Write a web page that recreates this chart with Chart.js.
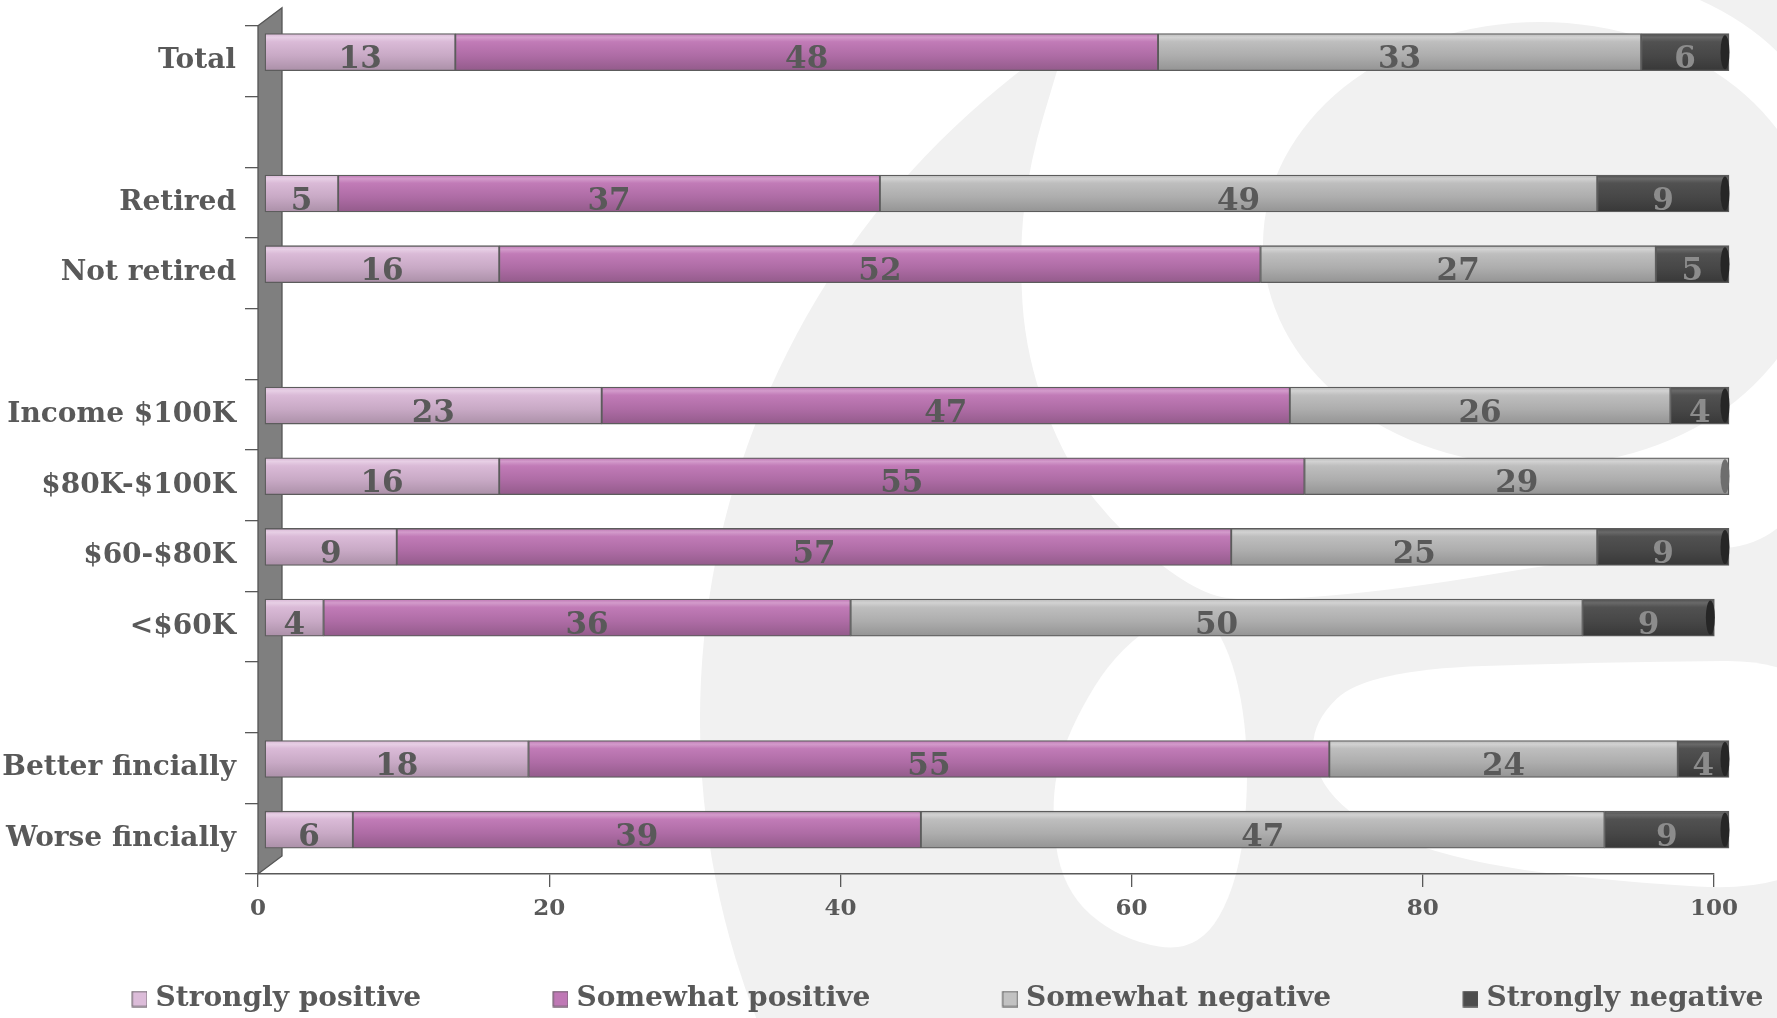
<!DOCTYPE html>
<html>
<head>
<meta charset="utf-8">
<script src="https://cdn.jsdelivr.net/npm/chart.js@4/dist/chart.umd.min.js"></script>
<style>
html,body{margin:0;padding:0;background:#fff;overflow:hidden}
#wrap{width:1777px;height:1018px;position:relative}
</style>
</head>
<body>
<div id="wrap"><canvas id="c" width="1777" height="1018"></canvas></div>
<script>
// ---------------- data ----------------
const categories = ['Total', '', 'Retired', 'Not retired', '', 'Income $100K', '$80K-$100K', '$60-$80K', '<$60K', '', 'Better fincially', 'Worse fincially'];
const seriesNames = ['Strongly positive', 'Somewhat positive', 'Somewhat negative', 'Strongly negative'];
const stronglyPositive = [13, null, 5, 16, null, 23, 16, 9, 4, null, 18, 6];
const somewhatPositive = [48, null, 37, 52, null, 47, 55, 57, 36, null, 54.7, 38.8];
const somewhatNegative = [33, null, 49, 27, null, 26, 29, 25, 50, null, 23.8, 46.7];
const stronglyNegative = [6, null, 9, 5, null, 4, null, 9, 9, null, 3.5, 8.5];
const xTicks = [0, 20, 40, 60, 80, 100];

// ---------------- styles ----------------
const FONT = "'DejaVu Serif', 'Liberation Serif', serif";
const TEXT = '#595959';
const BAR = 37;
const flatColors = ['#d4b3d1', '#b873ae', '#b4b4b4', '#4a4a4a'];
const legendColors = ['#dcbcd9', '#bf78b5', '#c2c2c2', '#4d4d4d'];
const capColors = ['#a88ea5', '#8c5684', '#6e6e6e', '#262626'];
const labelColors = [TEXT, TEXT, TEXT, '#8c8c8c'];
const stopsList = [
  [[0, '#d8b7d5'], [0.1, '#e7cfe5'], [0.22, '#dabad7'], [0.6, '#c8a9c5'], [1, '#ab90a8']],
  [[0, '#bd76b3'], [0.1, '#d39bcb'], [0.22, '#c17bb7'], [0.6, '#ae6ca5'], [1, '#935b8b']],
  [[0, '#bababa'], [0.1, '#d2d2d2'], [0.22, '#bebebe'], [0.6, '#adadad'], [1, '#949494']],
  [[0, '#4f4f4f'], [0.1, '#696969'], [0.22, '#515151'], [0.6, '#474747'], [1, '#383838']]
];
const BAR_SHIFT_Y = -9;

function gradFill(i) {
  return function (ctx) {
    const ch = ctx.chart;
    const ys = ch.scales && ch.scales.y;
    if (ctx.type !== 'data' || !ys || !ch.chartArea) return flatColors[i];
    const c = ys.getPixelForValue(ctx.dataIndex);
    if (!isFinite(c)) return flatColors[i];
    const g = ch.ctx.createLinearGradient(0, c - BAR / 2, 0, c + BAR / 2);
    stopsList[i].forEach(s => g.addColorStop(s[0], s[1]));
    return g;
  };
}

const LEG_PAD = 2;
const LEG_W = 139.5;
const LEG_FONT = 28;

function legendSwatch(color, W) {
  const IW = W + 12, IH = 17;
  const cv = document.createElement('canvas');
  cv.width = IW; cv.height = IH;
  const c = cv.getContext('2d');
  c.fillStyle = color;
  c.fillRect(IW - 16, 0.5, 15.5, 16);
  c.strokeStyle = '#5a5a5a';
  c.lineWidth = 1;
  c.strokeRect(IW - 15.5, 1, 15, 15);
  return cv;
}
const swatches = legendColors.map(col => legendSwatch(col, LEG_W));

const allSeries = [stronglyPositive, somewhatPositive, somewhatNegative, stronglyNegative];
const datasets = allSeries.map((arr, i) => ({
  label: seriesNames[i],
  data: arr,
  backgroundColor: gradFill(i),
  borderColor: '#5c5c5c',
  borderWidth: 1.3,
  borderSkipped: false,
  barThickness: BAR,
  xAxisID: 'x2',
  yAxisID: 'y',
  clip: false
}));

// ---------------- decoration plugin ----------------
function smoothPath(c, pts) {
  const n = pts.length;
  c.beginPath();
  const p0 = pts[n - 1], p1 = pts[0];
  c.moveTo((p0[0] + p1[0]) / 2, (p0[1] + p1[1]) / 2);
  for (let i = 0; i < n; i++) {
    const a = pts[i], b = pts[(i + 1) % n];
    c.quadraticCurveTo(a[0], a[1], (a[0] + b[0]) / 2, (a[1] + b[1]) / 2);
  }
  c.closePath();
}

const decor = {
  id: 'decor',
  beforeDraw(chart) {
    const c = chart.ctx;
    c.save();
    c.fillStyle = '#ffffff';
    c.fillRect(0, 0, chart.width, chart.height);
    const G = '#f1f1f1', Wt = '#ffffff';
    // big "C" watermark
    c.fillStyle = G;
    c.beginPath(); c.arc(1518, 720, 818, 0, Math.PI * 2); c.fill();
    c.fillStyle = Wt;
    smoothPath(c, [[1090, -40], [1850, -40], [1850, 540], [1600, 556], [1400, 590], [1250, 602], [1198, 593], [1124, 536], [1066, 464], [1026, 357], [1019, 250], [1030, 161], [1057, 71]]);
    c.fill();
    c.fillStyle = G;
    c.beginPath(); c.ellipse(1540, 244, 277, 222, 0, 0, Math.PI * 2); c.fill();
    c.fillStyle = Wt;
    smoothPath(c, [[1198, 600], [1120, 645], [1068, 730], [1050, 800], [1062, 890], [1120, 940], [1198, 953], [1240, 880], [1250, 760], [1235, 660]]);
    c.fill();
    smoothPath(c, [[1367, 670], [1600, 662], [1850, 660], [1850, 896], [1545, 877], [1396, 843], [1322, 793], [1307, 727]]);
    c.fill();
    c.restore();
  },
  beforeDatasetsDraw(chart) {
    const c = chart.ctx, a = chart.chartArea;
    // 3D side wall of the category axis
    c.save();
    c.beginPath();
    c.moveTo(a.left, a.top);
    c.lineTo(a.left + 24, a.top - 18);
    c.lineTo(a.left + 24, a.bottom - 18);
    c.lineTo(a.left, a.bottom);
    c.closePath();
    c.fillStyle = '#7f7f7f';
    c.fill();
    c.strokeStyle = '#555555';
    c.lineWidth = 1.3;
    c.stroke();
    c.restore();
    c.save();
    c.translate(0, BAR_SHIFT_Y);
  },
  afterDatasetsDraw(chart) {
    const c = chart.ctx;
    const n = chart.data.labels.length;
    // end caps
    for (let j = 0; j < n; j++) {
      let last = -1;
      chart.data.datasets.forEach((ds, i) => { if (ds.data[j] != null) last = i; });
      if (last < 0) continue;
      const el = chart.getDatasetMeta(last).data[j];
      c.save();
      c.beginPath();
      c.ellipse(el.x - 4, el.y, 4.5, el.height / 2 - 1.5, 0, 0, Math.PI * 2);
      c.fillStyle = capColors[last];
      c.fill();
      c.restore();
    }
    // value labels (shown as whole numbers)
    c.save();
    c.font = 'bold 31px ' + FONT;
    c.textAlign = 'center';
    c.textBaseline = 'alphabetic';
    chart.data.datasets.forEach((ds, i) => {
      const meta = chart.getDatasetMeta(i);
      meta.data.forEach((el, j) => {
        const v = ds.data[j];
        if (v == null) return;
        c.fillStyle = labelColors[i];
        c.fillText(String(Math.round(v)), (el.x + el.base) / 2, el.y + 16);
      });
    });
    c.restore();
    c.restore();
  }
};

// ---------------- chart ----------------
new Chart(document.getElementById('c'), {
  type: 'bar',
  data: { labels: categories, datasets: datasets },
  options: {
    indexAxis: 'y',
    responsive: false,
    animation: false,
    events: [],
    layout: { padding: { top: 25, left: 0, right: 0, bottom: -5 } },
    scales: {
      y: {
        type: 'category',
        position: 'left',
        stacked: true,
        offset: true,
        grid: { display: true, drawOnChartArea: false, offset: true, tickLength: 13, color: '#595959', lineWidth: 1.3 },
        border: { display: false },
        ticks: { font: { family: FONT, size: 28, weight: 'bold' }, color: TEXT, padding: 9, autoSkip: false },
        afterFit(s) { s.width = 258; }
      },
      yR: {
        type: 'category',
        position: 'right',
        grid: { display: false },
        border: { display: false },
        ticks: { display: false },
        afterFit(s) { s.width = 63; }
      },
      x: {
        type: 'linear',
        position: 'bottom',
        min: 0,
        max: 100,
        afterBuildTicks(s) { s.ticks = xTicks.map(v => ({ value: v })); },
        grid: { display: true, drawOnChartArea: false, tickLength: 13, color: '#595959', lineWidth: 1.3 },
        border: { display: true, color: '#595959', width: 1.5 },
        ticks: { font: { family: FONT, size: 23, weight: 'bold' }, color: TEXT, padding: 8, maxRotation: 0 },
        afterFit(s) { s.height = 109; }
      },
      x2: {
        type: 'linear',
        display: false,
        stacked: true,
        min: -0.478,
        max: 98.976
      }
    },
    plugins: {
      tooltip: { enabled: false },
      legend: {
        display: true,
        position: 'bottom',
        align: 'start',
        labels: {
          font: { family: FONT, size: LEG_FONT, weight: 'bold' },
          color: TEXT,
          padding: LEG_PAD,
          usePointStyle: true,
          pointStyleWidth: LEG_W,
          boxHeight: 17,
          generateLabels(chart) {
            return chart.data.datasets.map((ds, i) => ({
              text: ds.label,
              fillStyle: legendColors[i],
              strokeStyle: '#5a5a5a',
              lineWidth: 1,
              pointStyle: swatches[i],
              fontColor: TEXT,
              hidden: false,
              datasetIndex: i
            }));
          }
        }
      }
    }
  },
  plugins: [decor]
});
</script>
</body>
</html>
